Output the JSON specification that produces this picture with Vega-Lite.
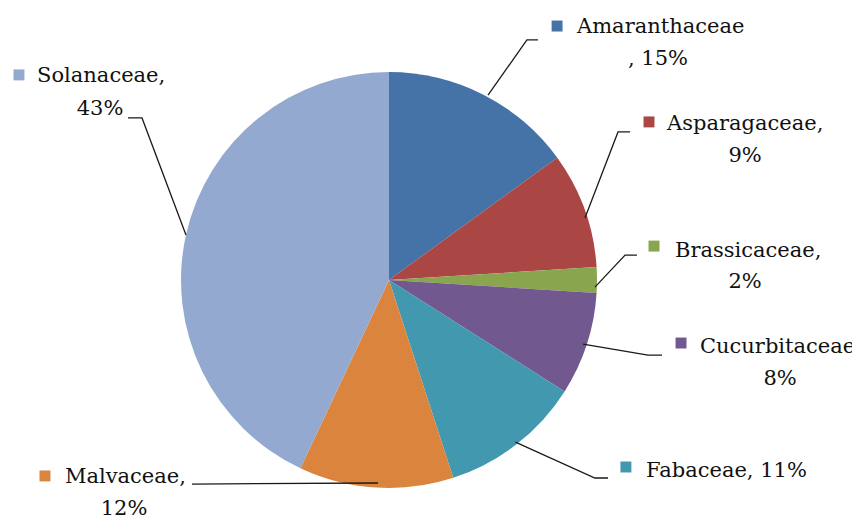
{
  "$schema": "https://vega.github.io/schema/vega-lite/v6.json",
  "autosize": {"type": "none"},
  "padding": {"left": 0, "top": 44, "right": 74, "bottom": 0},
  "width": 778,
  "height": 472,
  "background": "white",
  "config": {"view": {"stroke": null}},
  "datasets": {
    "slices": [
      {"name": "Amaranthaceae", "pct": 15},
      {"name": "Asparagaceae", "pct": 9},
      {"name": "Brassicaceae", "pct": 2},
      {"name": "Cucurbitaceae", "pct": 8},
      {"name": "Fabaceae", "pct": 11},
      {"name": "Malvaceae", "pct": 12},
      {"name": "Solanaceae", "pct": 43}
    ],
    "leaders": [
      {"name": "Amaranthaceae", "i": 0, "x": 0.476, "y": 0.889},
      {"name": "Amaranthaceae", "i": 1, "x": 0.663, "y": 1.154},
      {"name": "Amaranthaceae", "i": 2, "x": 0.716, "y": 1.154},
      {"name": "Asparagaceae", "i": 0, "x": 0.942, "y": 0.298},
      {"name": "Asparagaceae", "i": 1, "x": 1.101, "y": 0.712},
      {"name": "Asparagaceae", "i": 2, "x": 1.159, "y": 0.712},
      {"name": "Brassicaceae", "i": 0, "x": 0.990, "y": -0.034},
      {"name": "Brassicaceae", "i": 1, "x": 1.135, "y": 0.120},
      {"name": "Brassicaceae", "i": 2, "x": 1.192, "y": 0.120},
      {"name": "Cucurbitaceae", "i": 0, "x": 0.933, "y": -0.308},
      {"name": "Cucurbitaceae", "i": 1, "x": 1.245, "y": -0.361},
      {"name": "Cucurbitaceae", "i": 2, "x": 1.3125, "y": -0.361},
      {"name": "Fabaceae", "i": 0, "x": 0.608, "y": -0.779},
      {"name": "Fabaceae", "i": 1, "x": 0.990, "y": -0.952},
      {"name": "Fabaceae", "i": 2, "x": 1.053, "y": -0.952},
      {"name": "Malvaceae", "i": 0, "x": -0.053, "y": -0.976},
      {"name": "Malvaceae", "i": 1, "x": -0.947, "y": -0.981},
      {"name": "Solanaceae", "i": 0, "x": -0.976, "y": 0.216},
      {"name": "Solanaceae", "i": 1, "x": -1.1875, "y": 0.779},
      {"name": "Solanaceae", "i": 2, "x": -1.255, "y": 0.779}
    ],
    "labels": [
      {"name": "Amaranthaceae", "kx": 0.808, "ky": 1.221, "tx": 0.904, "ty": 1.188, "t": "Amaranthaceae"},
      {"name": "Asparagaceae", "kx": 1.25, "ky": 0.760, "tx": 1.337, "ty": 0.721, "t": "Asparagaceae,"},
      {"name": "Brassicaceae", "kx": 1.274, "ky": 0.163, "tx": 1.375, "ty": 0.111, "t": "Brassicaceae,"},
      {"name": "Cucurbitaceae", "kx": 1.404, "ky": -0.303, "tx": 1.495, "ty": -0.351, "t": "Cucurbitaceae"},
      {"name": "Fabaceae", "kx": 1.139, "ky": -0.899, "tx": 1.236, "ty": -0.947, "t": "Fabaceae, 11%"},
      {"name": "Malvaceae", "kx": -1.654, "ky": -0.942, "tx": -1.558, "ty": -0.976, "t": "Malvaceae,"},
      {"name": "Solanaceae", "kx": -1.779, "ky": 0.986, "tx": -1.692, "ty": 0.952, "t": "Solanaceae,"}
    ],
    "second": [
      {"name": "Amaranthaceae", "x": 1.293, "y": 1.034, "t": ", 15%"},
      {"name": "Asparagaceae", "x": 1.712, "y": 0.567, "t": "9%"},
      {"name": "Brassicaceae", "x": 1.712, "y": -0.038, "t": "2%"},
      {"name": "Cucurbitaceae", "x": 1.880, "y": -0.505, "t": "8%"},
      {"name": "Malvaceae", "x": -1.274, "y": -1.130, "t": "12%"},
      {"name": "Solanaceae", "x": -1.389, "y": 0.793, "t": "43%"}
    ]
  },
  "layer": [
    {
      "data": {"name": "slices"},
      "mark": {"type": "arc", "outerRadius": 208},
      "encoding": {
        "theta": {"field": "pct", "type": "quantitative", "stack": true},
        "color": {
          "field": "name", "type": "nominal", "legend": null,
          "scale": {
            "domain": ["Amaranthaceae", "Asparagaceae", "Brassicaceae", "Cucurbitaceae", "Fabaceae", "Malvaceae", "Solanaceae"],
            "range": ["#4572A7", "#AA4643", "#89A54E", "#71588F", "#4198AF", "#DB843D", "#93A9CF"]
          }
        }
      }
    },
    {
      "data": {"name": "leaders"},
      "mark": {"type": "line", "color": "#1a1a1a", "strokeWidth": 1.3},
      "encoding": {
        "x": {"field": "x", "type": "quantitative", "scale": {"domain": [-1.8702, 1.8702], "nice": false, "zero": false}, "axis": null},
        "y": {"field": "y", "type": "quantitative", "scale": {"domain": [-1.1346, 1.1346], "nice": false, "zero": false}, "axis": null},
        "detail": {"field": "name"},
        "order": {"field": "i", "type": "quantitative"}
      }
    },
    {
      "data": {"name": "labels"},
      "mark": {"type": "point", "shape": "square", "filled": true, "opacity": 1, "size": 120},
      "encoding": {
        "x": {"field": "kx", "type": "quantitative"},
        "y": {"field": "ky", "type": "quantitative"},
        "color": {"field": "name", "type": "nominal", "legend": null}
      }
    },
    {
      "data": {"name": "labels"},
      "mark": {"type": "text", "align": "left", "baseline": "alphabetic", "font": "DejaVu Serif", "fontSize": 21, "color": "#111"},
      "encoding": {
        "x": {"field": "tx", "type": "quantitative"},
        "y": {"field": "ty", "type": "quantitative"},
        "text": {"field": "t"}
      }
    },
    {
      "data": {"name": "second"},
      "mark": {"type": "text", "align": "center", "baseline": "alphabetic", "font": "DejaVu Serif", "fontSize": 21, "color": "#111"},
      "encoding": {
        "x": {"field": "x", "type": "quantitative"},
        "y": {"field": "y", "type": "quantitative"},
        "text": {"field": "t"}
      }
    }
  ]
}
